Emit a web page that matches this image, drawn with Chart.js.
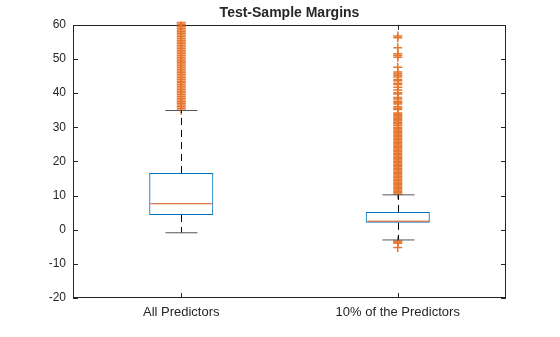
<!DOCTYPE html>
<html>
<head>
<meta charset="utf-8">
<script src="https://cdn.jsdelivr.net/npm/chart.js@4/dist/chart.umd.min.js"></script>
<style>
  html, body { margin: 0; padding: 0; background: #fff; }
  #wrap { width: 560px; height: 337px; }
</style>
</head>
<body>
<div id="wrap"><canvas id="c" width="560" height="337"></canvas></div>
<script>
// datos
const groups = ['All Predictors', '10% of the Predictors'];
const q1 = [4.3, 2.0];
const q3 = [16.6, 5.2];
const medians = [7.6, 2.5];
const whiskerLow = [-0.9, -3.0];
const whiskerHigh = [34.9, 10.2];
const yTicks = [-20, -10, 0, 10, 20, 30, 40, 50, 60];

const outliersAll = [35, 35.5, 36, 36.5, 37, 37.5, 38, 38.5, 39, 39.5, 40, 40.5, 41, 41.5, 42, 42.5,
  43, 43.5, 44, 44.5, 45, 45.5, 46, 46.5, 47, 47.5, 48, 48.5, 49, 49.5, 50, 50.5, 51, 51.5, 52, 52.5,
  53, 53.5, 54, 54.5, 55, 55.5, 56, 56.5, 57, 57.5, 58, 58.5, 59, 59.5, 60, 60.5, 61];
const outliers10 = [-5.2, -4.0, -3.6, -3.3,
  10.4, 10.8, 11.2, 11.6, 12.0, 12.4, 12.8, 13.2, 13.6, 14.0, 14.4, 14.8, 15.2, 15.6, 16.0, 16.4,
  16.8, 17.2, 17.6, 18.0, 18.4, 18.8, 19.2, 19.6, 20.0, 20.4, 20.8, 21.2, 21.6, 22.0, 22.4, 22.8,
  23.2, 23.6, 24.0, 24.4, 24.8, 25.2, 25.6, 26.0, 26.4, 26.8, 27.2, 27.6, 28.0, 28.4, 28.8, 29.2,
  29.6, 30.0, 30.6, 31.0, 31.4, 31.8, 32.2, 32.6, 33.0, 33.4, 33.8, 34.2, 35.2, 35.6, 36.0, 36.8,
  37.2, 37.6, 38.3, 38.7, 39.7, 40.1, 40.9, 41.7, 42.5, 42.9, 43.6, 44.0, 44.7, 45.2, 45.7, 46.2,
  47.6, 50.5, 51.0, 51.5, 53.3, 56.2, 56.7];

const AXIS = '#262626';
const BLUE = '#0072BD';
const ORANGE = '#D95319';
const FONT = "'Liberation Sans', Arial, Helvetica, sans-serif";

// mediana, bigotes, marco y marcas de los ejes
const boxExtras = {
  id: 'boxExtras',
  beforeDatasetsDraw(chart) {
    const { ctx, chartArea: a, scales: { x, y } } = chart;
    ctx.save();
    ctx.strokeStyle = AXIS;
    ctx.lineWidth = 1;
    ctx.strokeRect(Math.round(a.left) + 0.5, Math.round(a.top) + 0.5,
      Math.round(a.right - a.left) - 1, Math.round(a.bottom - a.top) - 1);
    const tl = 5;
    ctx.beginPath();
    yTicks.forEach(v => {
      const py = Math.round(y.getPixelForValue(v)) + 0.5;
      ctx.moveTo(a.left, py); ctx.lineTo(a.left + tl, py);
      ctx.moveTo(a.right, py); ctx.lineTo(a.right - tl, py);
    });
    groups.forEach((g, i) => {
      const px = Math.round(x.getPixelForValue(i)) + 0.5;
      ctx.moveTo(px, a.bottom); ctx.lineTo(px, a.bottom - tl);
      ctx.moveTo(px, a.top); ctx.lineTo(px, a.top + tl);
    });
    ctx.stroke();
    ctx.restore();
  },
  afterDatasetDraw(chart, args) {
    if (args.index !== 0) return;
    const { ctx, scales: { x, y } } = chart;
    const meta = chart.getDatasetMeta(0);
    ctx.save();
    groups.forEach((g, i) => {
      const bar = meta.data[i];
      const cx = Math.round(x.getPixelForValue(i)) + 0.5;
      const half = bar.width / 2;
      // bigotes discontinuos
      ctx.strokeStyle = '#000';
      ctx.lineWidth = 1;
      ctx.setLineDash([7, 5]);
      ctx.beginPath();
      ctx.moveTo(cx, y.getPixelForValue(q3[i]));
      ctx.lineTo(cx, y.getPixelForValue(whiskerHigh[i]));
      ctx.moveTo(cx, y.getPixelForValue(q1[i]));
      ctx.lineTo(cx, y.getPixelForValue(whiskerLow[i]));
      ctx.stroke();
      ctx.setLineDash([]);
      // remates
      ctx.strokeStyle = '#555';
      ctx.beginPath();
      [whiskerHigh[i], whiskerLow[i]].forEach(v => {
        const py = y.getPixelForValue(v);
        ctx.moveTo(cx - half / 2, py); ctx.lineTo(cx + half / 2, py);
      });
      ctx.stroke();
      // mediana
      ctx.strokeStyle = ORANGE;
      ctx.beginPath();
      const pm = y.getPixelForValue(medians[i]);
      ctx.moveTo(cx - half + 1, pm); ctx.lineTo(cx + half - 1, pm);
      ctx.stroke();
    });
    ctx.restore();
  }
};

const outlierPoints = [
  ...outliersAll.map(v => ({ x: groups[0], y: v })),
  ...outliers10.map(v => ({ x: groups[1], y: v }))
];

new Chart(document.getElementById('c'), {
  type: 'bar',
  data: {
    labels: groups,
    datasets: [{
      data: groups.map((g, i) => [q1[i], q3[i]]),
      backgroundColor: 'rgba(0,0,0,0)',
      borderColor: BLUE,
      borderWidth: 1,
      borderSkipped: false,
      barPercentage: 0.296,
      categoryPercentage: 1
    }, {
      type: 'scatter',
      data: outlierPoints,
      pointStyle: 'cross',
      pointRadius: 4.5,
      pointBorderWidth: 1.5,
      borderColor: '#E8762D',
      backgroundColor: '#E8762D',
      clip: 3
    }]
  },
  options: {
    responsive: false,
    animation: false,
    events: [],
    layout: { padding: { left: 0, right: 54, top: 0, bottom: 0 } },
    plugins: {
      legend: { display: false },
      tooltip: { enabled: false },
      title: {
        display: true,
        text: 'Test-Sample Margins',
        color: AXIS,
        fullSize: false, // centrado sobre el área del gráfico
        font: { family: FONT, size: 14, weight: 'bold' },
        padding: { top: 5, bottom: 3 }
      }
    },
    scales: {
      x: {
        type: 'category',
        grid: { display: false, drawTicks: false },
        border: { display: false },
        ticks: { color: AXIS, font: { family: FONT, size: 13 }, padding: 7, maxRotation: 0 },
        afterFit(s) { s.height = 39; }
      },
      y: {
        min: -20, max: 60,
        grid: { display: false, drawTicks: false },
        border: { display: false },
        afterBuildTicks(s) { s.ticks = yTicks.map(v => ({ value: v })); },
        ticks: { color: AXIS, font: { family: FONT, size: 12 }, padding: 7 },
        afterFit(s) { s.width = 73; }
      }
    }
  },
  plugins: [boxExtras]
});
</script>
</body>
</html>
